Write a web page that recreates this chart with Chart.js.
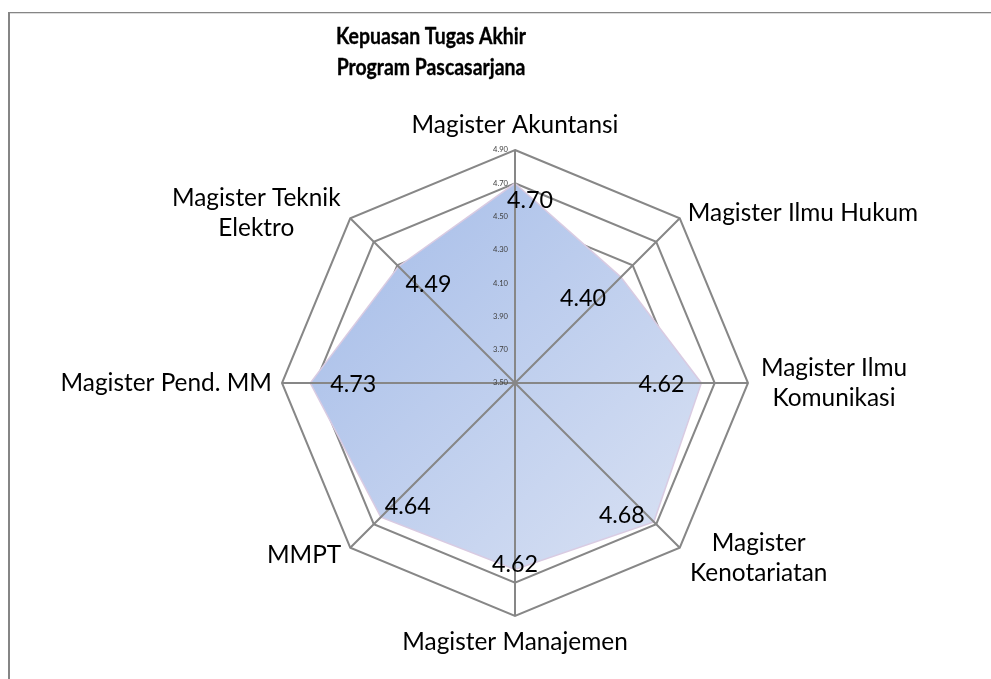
<!DOCTYPE html>
<html><head><meta charset="utf-8">
<script src="https://cdn.jsdelivr.net/npm/chart.js@4"></script>
<style>html,body{margin:0;padding:0;background:#fff}canvas{display:block}</style>
</head><body>
<canvas id="c" width="991" height="679" style="width:991px;height:679px"></canvas>
<script>
// ---- data ----
const titleLines = ['Kepuasan Tugas Akhir', 'Program Pascasarjana'];
const categories = [
  ['Magister Akuntansi'],
  ['Magister Ilmu Hukum'],
  ['Magister Ilmu', 'Komunikasi'],
  ['Magister', 'Kenotariatan'],
  ['Magister Manajemen'],
  ['MMPT'],
  ['Magister Pend. MM'],
  ['Magister Teknik', 'Elektro']
];
const values = [4.70, 4.40, 4.62, 4.68, 4.62, 4.64, 4.73, 4.49];
const tickLabels = ['3.50', '3.70', '3.90', '4.10', '4.30', '4.50', '4.70', '4.90'];
const scaleMin = 3.5, scaleMax = 4.9, scaleStep = 0.2;

// ---- styling / placement ----
const FAMILY = 'Lato, "Liberation Sans", sans-serif';
const GRID = '#878787';
const labelPlace = [
  {dx: 0, dy: -25, align: 'center'},
  {dx: 8, dy: -5, align: 'left'},
  {dx: 86, dy: 0, align: 'center'},
  {dx: 79, dy: 10, align: 'center'},
  {dx: 0, dy: 26, align: 'center'},
  {dx: -9, dy: 7, align: 'right'},
  {dx: -10, dy: 0, align: 'right'},
  {dx: -94, dy: -5, align: 'center'}
];
const valuePlace = [
  {dx: 15, dy: 17}, {dx: -38, dy: 21}, {dx: -40, dy: 1}, {dx: -32, dy: -6},
  {dx: 0, dy: -5}, {dx: 27, dy: -11}, {dx: 43, dy: 1}, {dx: 30, dy: 18}
];

function fitSize(ctx, weight, sample, target) {
  ctx.font = weight + ' 100px ' + FAMILY;
  return 100 * target / ctx.measureText(sample).width;
}

const overlay = {
  id: 'overlay',
  beforeDraw(chart) {
    const ctx = chart.ctx;
    ctx.save();
    ctx.fillStyle = '#ffffff';
    ctx.fillRect(0, 0, chart.width, chart.height);
    ctx.fillStyle = '#858585';
    ctx.fillRect(8, 12, chart.width - 8, 1);
    ctx.fillRect(8, 12, 2, chart.height - 12);
    ctx.fillStyle = '#dcdcdc';
    ctx.fillRect(10, 13, chart.width - 10, 1);
    ctx.restore();
  },
  afterDatasetsDraw(chart) {
    const ctx = chart.ctx;
    const s = chart.scales.r;
    ctx.save();
    // spokes on top of the fill
    ctx.strokeStyle = GRID;
    ctx.lineWidth = 2;
    ctx.beginPath();
    for (let i = 0; i < categories.length; i++) {
      const p = s.getPointPosition(i, s.drawingArea);
      ctx.moveTo(s.xCenter, s.yCenter);
      ctx.lineTo(p.x, p.y);
    }
    ctx.stroke();

    // tick labels
    const tSize = fitSize(ctx, 'normal', '4.90', 15);
    ctx.font = tSize.toFixed(2) + 'px ' + FAMILY;
    ctx.fillStyle = '#404040';
    ctx.textAlign = 'right';
    ctx.textBaseline = 'middle';
    s.ticks.forEach((t, i) => {
      const y = s.yCenter - s.getDistanceFromCenterForValue(t.value);
      ctx.fillText(tickLabels[i] !== undefined ? tickLabels[i] : t.value.toFixed(2), s.xCenter - 7, y);
    });

    // value labels
    const vSize = fitSize(ctx, 'normal', '4.70', 46);
    ctx.font = vSize.toFixed(2) + 'px ' + FAMILY;
    ctx.fillStyle = '#000000';
    ctx.textAlign = 'center';
    values.forEach((v, i) => {
      const p = s.getPointPositionForValue(i, v);
      ctx.fillText(v.toFixed(2), p.x + valuePlace[i].dx, p.y + valuePlace[i].dy);
    });

    // category labels
    const lSize = fitSize(ctx, 'normal', 'Magister Akuntansi', 207);
    ctx.font = lSize.toFixed(2) + 'px ' + FAMILY;
    const lh = 30;
    categories.forEach((lines, i) => {
      const p = s.getPointPosition(i, s.drawingArea);
      const pl = labelPlace[i];
      ctx.textAlign = pl.align;
      const y0 = p.y + pl.dy - (lines.length - 1) * lh / 2;
      lines.forEach((ln, k) => ctx.fillText(ln, p.x + pl.dx, y0 + k * lh));
    });

    // title (Calibri-like proportions: slightly narrowed)
    ctx.font = '700 22px ' + FAMILY;
    ctx.textAlign = 'center';
    ctx.textBaseline = 'alphabetic';
    const w0 = ctx.measureText(titleLines[0]).width;
    const sx = 190 / w0;
    ctx.save();
    ctx.translate(431, 0);
    ctx.scale(sx, 1);
    ctx.strokeStyle = '#000000';
    ctx.lineWidth = 0.35;
    ctx.lineJoin = 'round';
    ctx.fillText(titleLines[0], 0, 44);
    ctx.strokeText(titleLines[0], 0, 44);
    ctx.fillText(titleLines[1], 0, 75);
    ctx.strokeText(titleLines[1], 0, 75);
    ctx.restore();
    ctx.restore();
  }
};

new Chart(document.getElementById('c'), {
  type: 'radar',
  data: {
    labels: categories.map(c => c.join(' ')),
    datasets: [{
      data: values,
      fill: true,
      backgroundColor: (c) => {
        const a = c.chart.chartArea;
        if (!a) return '#bfcdee';
        const g = c.chart.ctx.createLinearGradient(a.left, a.top, a.right, a.bottom);
        g.addColorStop(0, '#9fb8e7');
        g.addColorStop(1, '#e1e7f5');
        return g;
      },
      borderColor: '#d9cbe2',
      borderWidth: 1.5,
      pointRadius: 0,
      pointHoverRadius: 0
    }]
  },
  options: {
    responsive: false,
    animation: false,
    devicePixelRatio: 1,
    layout: {padding: {left: 282, right: 243, top: 150, bottom: 63}},
    plugins: {legend: {display: false}, title: {display: false}, tooltip: {enabled: false}},
    scales: {
      r: {
        min: scaleMin,
        max: scaleMax,
        ticks: {stepSize: scaleStep, display: false},
        grid: {color: GRID, lineWidth: 2},
        angleLines: {display: false},
        pointLabels: {display: false}
      }
    }
  },
  plugins: [overlay]
});
</script>
</body></html>
